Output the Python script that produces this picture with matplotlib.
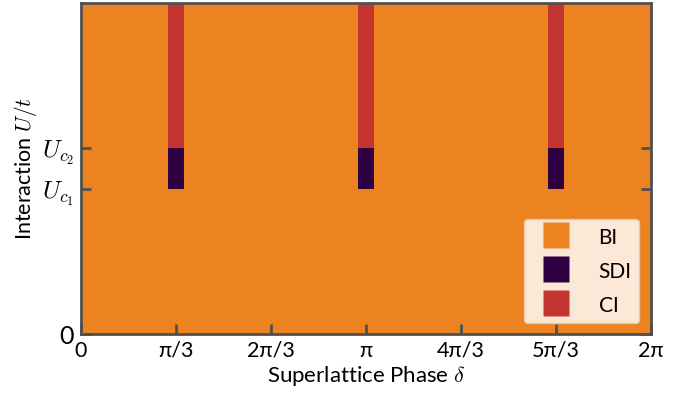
import numpy as np
import matplotlib
matplotlib.use('Agg')
import matplotlib.pyplot as plt
from matplotlib.colors import ListedColormap
from matplotlib.lines import Line2D

plt.rcParams['font.family'] = ['Lato', 'DejaVu Sans']
plt.rcParams['mathtext.fontset'] = 'cm'

# phase diagram data
phase_names = ['BI', 'SDI', 'CI']
phase_colors = ['#EC8320', '#2E0042', '#C5352F']
special_deltas = [np.pi / 3, np.pi, 5 * np.pi / 3]
bar_width = 0.18
U_c1 = 3.5
U_c2 = 4.5
U_max = 8.0
xtick_vals = [0, np.pi / 3, 2 * np.pi / 3, np.pi, 4 * np.pi / 3, 5 * np.pi / 3, 2 * np.pi]
xtick_labels = ['0', 'π/3', '2π/3', 'π', '4π/3', '5π/3', '2π']

# build grid edges and phase matrix
x_edges = [0.0]
for d in special_deltas:
    x_edges += [d - bar_width / 2, d + bar_width / 2]
x_edges.append(2 * np.pi)
x_edges = np.array(x_edges)
y_edges = np.array([0.0, U_c1, U_c2, U_max])

phase = np.zeros((len(y_edges) - 1, len(x_edges) - 1), dtype=int)
for j in range(len(x_edges) - 1):
    if j % 2 == 1:  # column of a special phase
        phase[1, j] = 1
        phase[2, j] = 2

fig = plt.figure(figsize=(6.9, 3.95), dpi=100)
ax = fig.add_axes([81 / 690, 1 - 334 / 395, 570 / 690, 331 / 395])
cmap = ListedColormap(phase_colors)
ax.pcolormesh(x_edges, y_edges, phase, cmap=cmap, vmin=-0.5, vmax=2.5)

ax.set_xlim(0, 2 * np.pi)
ax.set_ylim(0, U_max)
ax.set_xticks(xtick_vals)
ax.set_xticklabels(xtick_labels)
ax.set_yticks([0, U_c1, U_c2])
ax.set_yticklabels(['0', '$U_{c_1}$', '$U_{c_2}$'])
ax.tick_params(direction='in', length=7, width=2, color='#505050',
               labelsize=15.5, right=True, top=False, pad=5)
ax.tick_params(axis='y', labelsize=18, pad=5)
for s in ax.spines.values():
    s.set_color('#505050')
    s.set_linewidth(2)

ax.set_xlabel(r'Superlattice Phase $\delta$', fontsize=16, labelpad=2)
ax.set_ylabel(r'Interaction $U/t$', fontsize=15.5, labelpad=2)

handles = [Line2D([], [], marker='s', linestyle='none', markersize=19,
                  markerfacecolor=c, markeredgecolor='none', label=n)
           for c, n in zip(phase_colors, phase_names)]
leg = ax.legend(handles=handles, loc='lower right', fontsize=15, frameon=True,
                facecolor='#FCE8D6', edgecolor='#E8C9A8', framealpha=1,
                handlelength=2.4, handleheight=1.2, handletextpad=0.84,
                labelspacing=0.58, borderpad=0.36, borderaxespad=0,
                bbox_to_anchor=(0.979, 0.033))
leg.get_frame().set_linewidth(1)

fig.savefig('out.png', dpi=100)
